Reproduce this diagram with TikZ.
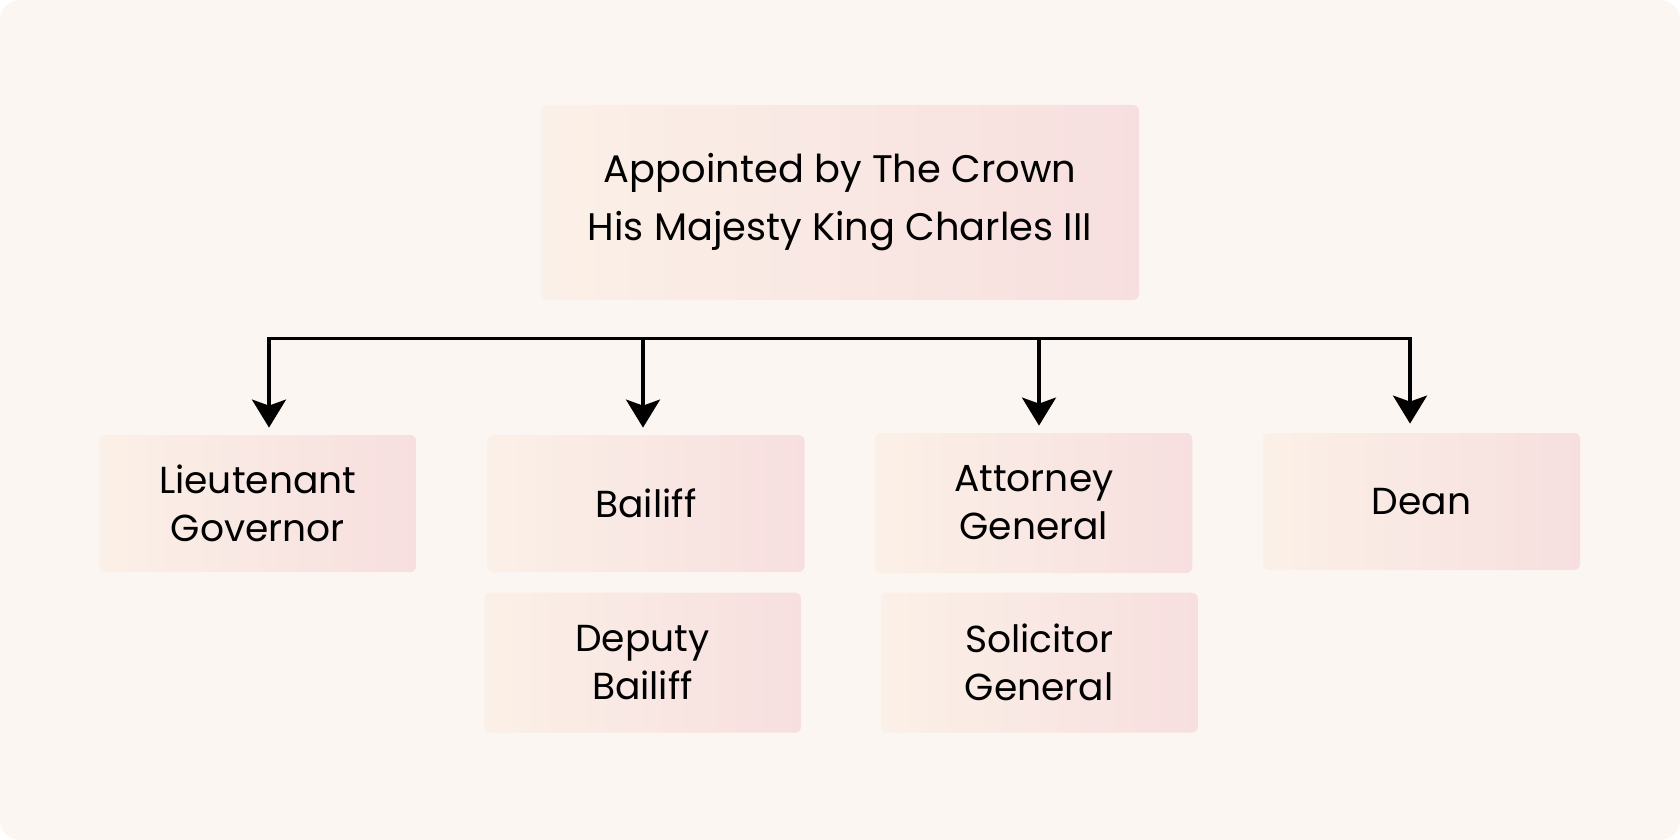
\documentclass[tikz,border=0pt]{standalone}
\usepackage{fontspec}
\setmainfont{Poppins}
\usetikzlibrary{arrows.meta}
\definecolor{bgc}{HTML}{FCF6F3}
\definecolor{boxl}{HTML}{FBF0E7}
\definecolor{boxr}{HTML}{F7DFDF}
\tikzset{
  orgbox/.style={rounded corners=3pt, left color=boxl, right color=boxr, draw=none,
    align=center, inner sep=0pt, minimum width=158.5pt},
  toptext/.style={font=\fontsize{19.2}{29}\selectfont},
  subtext/.style={font=\fontsize{18.8}{24}\selectfont},
  conn/.style={line width=1.6pt, black, line join=miter,
    -{Stealth[length=14pt,width=17pt,inset=3pt]}, shorten >=3.5pt}
}
\begin{document}
\begin{tikzpicture}[x=0.5pt,y=-0.5pt]
\fill[white] (0,0) rectangle (1680,840);
\useasboundingbox (0,0) rectangle (1680,840);
\fill[bgc, rounded corners=10pt] (0,0) rectangle (1680,840);

\node[orgbox, toptext, minimum width=299pt, minimum height=97.5pt] (top) at (840,202.5)
  {Appointed by The Crown\\His Majesty King Charles III};

\node[orgbox, subtext, minimum height=68.5pt] (lg) at (257.7,503.5) {Lieutenant\\Governor};
\node[orgbox, subtext, minimum height=68.5pt] (bailiff) at (646,503.5) {Bailiff};
\node[orgbox, subtext, minimum height=70pt] (ag) at (1033.8,503) {Attorney\\General};
\node[orgbox, subtext, minimum height=68.5pt] (dean) at (1421.5,501.5) {Dean};
\node[orgbox, subtext, minimum height=70pt] (deputy) at (642.5,662.7) {Deputy\\Bailiff};
\node[orgbox, subtext, minimum height=70pt] (sg) at (1039.3,662.7) {Solicitor\\General};

\coordinate (j1) at (269,338.6);
\coordinate (j2) at (643,338.6);
\coordinate (j3) at (1039,338.6);
\coordinate (j4) at (1410,338.6);

\draw[conn, {Stealth[length=14pt,width=17pt,inset=3pt]}-{Stealth[length=14pt,width=17pt,inset=3pt]}, shorten <=4.5pt]
  (j4 |- dean.north) -- (j4) -- (j1) -- (j1 |- lg.north);
\draw[conn] (j2) -- (j2 |- bailiff.north);
\draw[conn] (j3) -- (j3 |- ag.north);
\end{tikzpicture}
\end{document}
